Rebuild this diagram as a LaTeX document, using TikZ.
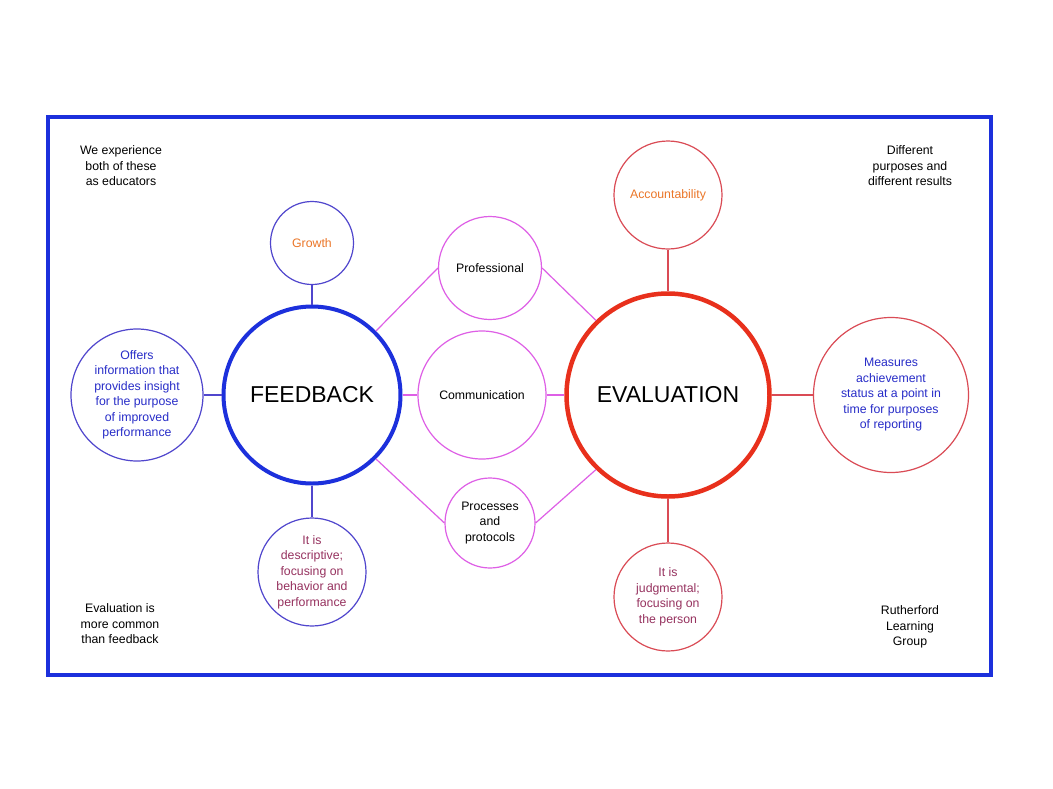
\documentclass[tikz,border=0pt]{standalone}
\usepackage{fontspec}
\setmainfont{Liberation Sans}
\definecolor{cframe}{RGB}{28,48,220}
\definecolor{cthinblue}{RGB}{80,70,205}
\definecolor{ctextblue}{RGB}{40,45,200}
\definecolor{cmag}{RGB}{222,95,230}
\definecolor{cthinred}{RGB}{218,75,85}
\definecolor{cred}{RGB}{232,48,28}
\definecolor{corange}{RGB}{235,118,40}
\definecolor{cmaroon}{RGB}{150,50,95}
\begin{document}
\begin{tikzpicture}[x=1pt,y=-1pt,
  bub/.style={circle, fill=white, line width=1.2pt, inner sep=0pt, align=center,
    font=\fontsize{12.3}{15.5}\selectfont},
  big/.style={circle, fill=white, inner sep=0pt, align=center,
    font=\fontsize{23}{27}\selectfont},
  note/.style={align=center, inner sep=0pt, font=\fontsize{12.3}{15.5}\selectfont},
  bline/.style={draw=cthinblue, line width=1.2pt},
  mline/.style={draw=cmag, line width=1.2pt},
  rline/.style={draw=cthinred, line width=1.2pt}]
\useasboundingbox (0,0) rectangle (1053,788);
\fill[white] (0,0) rectangle (1053,788);
\draw[draw=cframe, line width=3.5pt] (48,117) rectangle (991,675);

% main circles
\node[big, draw=cframe, line width=4pt, minimum size=177] (fb) at (312,395) {FEEDBACK};
\node[big, draw=cred, line width=4.5pt, minimum size=203] (ev) at (668,395) {EVALUATION};

% feedback satellites
\node[bub, draw=cthinblue, minimum size=83, text=corange] (growth) at (312,243) {Growth};
\node[bub, draw=cthinblue, minimum size=132, text=ctextblue] (offers) at (137,395)
  {Offers\\information that\\provides insight\\for the purpose\\of improved\\performance};
\node[bub, draw=cthinblue, minimum size=108, text=cmaroon] (desc) at (312,572)
  {It is\\descriptive;\\focusing on\\behavior and\\performance};

% middle circles
\node[bub, draw=cmag, minimum size=103] (prof) at (490,268) {Professional};
\node[bub, draw=cmag, minimum size=128] (comm) at (482,395) {Communication};
\node[bub, draw=cmag, minimum size=90] (proc) at (490,523) {Processes\\and\\protocols};

% evaluation satellites
\node[bub, draw=cthinred, minimum size=108, text=corange] (acc) at (668,195) {Accountability};
\node[bub, draw=cthinred, minimum size=155, text=ctextblue] (meas) at (891,395)
  {Measures\\achievement\\status at a point in\\time for purposes\\of reporting};
\node[bub, draw=cthinred, minimum size=108, text=cmaroon] (judg) at (668,597)
  {It is\\judgmental;\\focusing on\\the person};

% corner notes
\node[note] (n1) at (121,166) {We experience\\both of these\\as educators};
\node[note] (n2) at (910,166) {Different\\purposes and\\different results};
\node[note] (n3) at (120,624) {Evaluation is\\more common\\than feedback};
\node[note] (n4) at (910,627) {Rutherford\\Learning\\Group};

% connectors
\draw[bline] (growth.south) -- (fb.north);
\draw[bline] (offers.east) -- (fb.west);
\draw[bline] (fb.south) -- (desc.north);
\draw[mline] (fb.45) -- (prof.west);
\draw[mline] (fb.east) -- (comm.west);
\draw[mline] (fb.-45) -- (proc.west);
\draw[mline] (prof.east) -- (ev.134);
\draw[mline] (comm.east) -- (ev.west);
\draw[mline] (proc.east) -- (ev.226);
\draw[rline] (acc.south) -- (ev.north);
\draw[rline] (meas.west) -- (ev.east);
\draw[rline] (judg.north) -- (ev.south);
\end{tikzpicture}
\end{document}
